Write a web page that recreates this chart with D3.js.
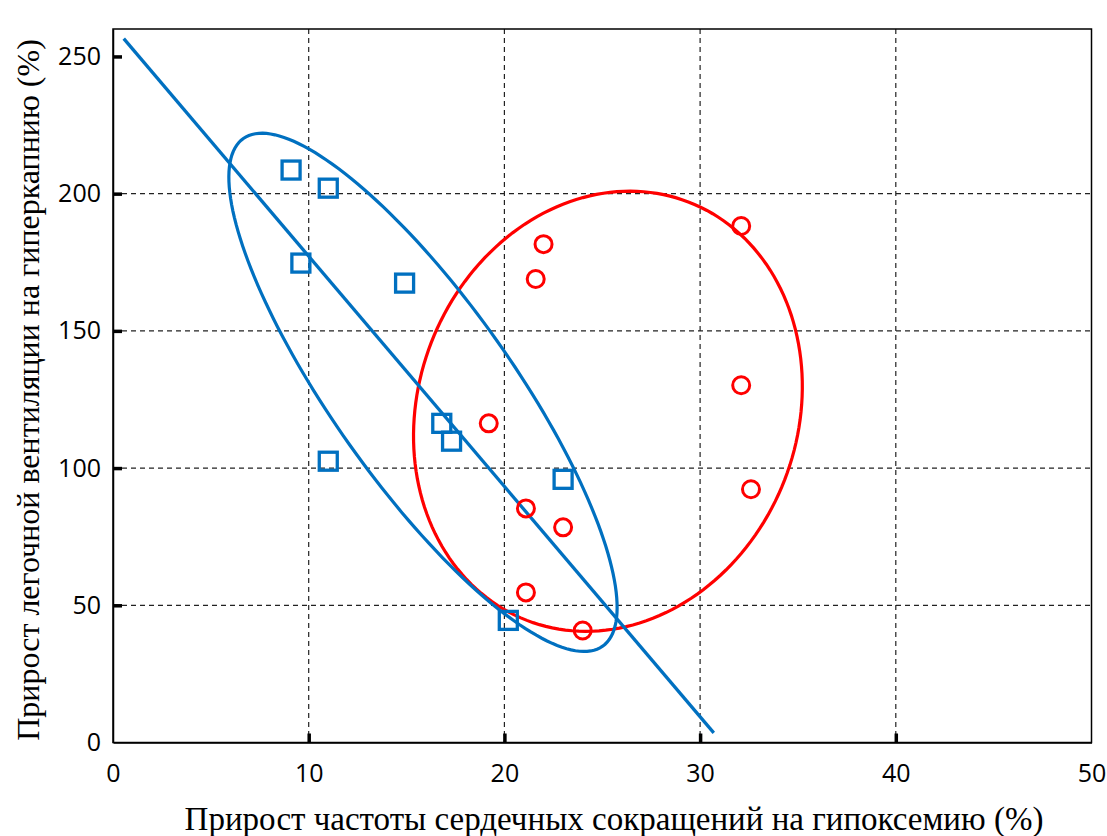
<!DOCTYPE html>
<html lang="ru">
<head>
<meta charset="utf-8" />
<title>Scatter</title>
<script src="https://cdn.jsdelivr.net/npm/d3@7"></script>
<style>
  body { margin: 0; background: #fff; }
  .tick text { font-family: "Open Sans", sans-serif; font-size: 25px; fill: #000; }
  .title { font-family: "Liberation Serif", "Times New Roman", serif; font-size: 33px; fill: #000; }
</style>
</head>
<body>
<script>
// blue group (squares)
var blueX = [9.1, 11.0, 9.6, 14.9, 16.8, 17.3, 11.0, 23.0, 20.2];
var blueY = [208.6, 202.0, 174.7, 167.4, 116.3, 109.8, 102.5, 95.9, 44.5];
// red group (circles)
var redX = [22.0, 21.6, 32.1, 19.2, 32.1, 32.6, 21.1, 23.0, 21.1, 24.0];
var redY = [181.6, 168.9, 188.2, 116.3, 130.2, 92.3, 85.3, 78.4, 54.7, 40.8];
// regression line for blue group
var lineX = [0.55, 30.7];
var lineIntercept = 261.1;
var lineSlope = -8.39;
// ellipses: centre + two conjugate semi-axis vectors (data units)
var blueEllipse = { cx: 15.84, cy: 127.6, ux: 9.18, uy: -92.5, vx: -3.76, vy: -19.0 };
var redEllipse = { cx: 25.29, cy: 120.7, ux: -4.14, uy: -76.2, vx: -9.03, vy: 25.0 };
// ticks
var xTicks = [0, 10, 20, 30, 40, 50];
var yTicks = [0, 50, 100, 150, 200, 250];
var xGrid = [10, 20, 30, 40];
var yGrid = [50, 100, 150, 200];
var xTitle = "Прирост частоты сердечных сокращений на гипоксемию (%)";
var yTitle = "Прирост легочной вентиляции на гиперкапнию (%)";

var w = 1107, h = 836;
var pLeft = 113, pRight = 1091.5, pTop = 29, pBottom = 742.5;
var blue = "#0070c0", red = "#ff0000";

var x = d3.scaleLinear().domain([0, 50]).range([pLeft, pRight]);
var y = d3.scaleLinear().domain([0, 260]).range([pBottom, pTop]);

var svg = d3.select("body").append("svg").attr("width", w).attr("height", h);

// gridlines
svg.selectAll("line.gx").data(xGrid).enter().append("line")
    .attr("x1", function(d) { return x(d); }).attr("x2", function(d) { return x(d); })
    .attr("y1", pTop).attr("y2", pBottom)
    .attr("stroke", "#222").attr("stroke-width", 1.2).attr("stroke-dasharray", "5,4");
svg.selectAll("line.gy").data(yGrid).enter().append("line")
    .attr("y1", function(d) { return y(d); }).attr("y2", function(d) { return y(d); })
    .attr("x1", pLeft).attr("x2", pRight)
    .attr("stroke", "#222").attr("stroke-width", 1.2).attr("stroke-dasharray", "5,4");

// frame
svg.append("rect").attr("x", pLeft).attr("y", pTop)
    .attr("width", pRight - pLeft).attr("height", pBottom - pTop)
    .attr("fill", "none").attr("stroke", "#000").attr("stroke-width", 1.5);

// axes (ticks point inward)
var xAxis = svg.append("g").attr("transform", "translate(0," + pBottom + ")")
    .call(d3.axisBottom(x).tickValues(xTicks).tickSizeInner(-9).tickSizeOuter(0)
        .tickPadding(22).tickFormat(d3.format("d")));
var yAxis = svg.append("g").attr("transform", "translate(" + pLeft + ",0)")
    .call(d3.axisLeft(y).tickValues(yTicks).tickSizeInner(-9).tickSizeOuter(0)
        .tickPadding(12).tickFormat(d3.format("d")));
[xAxis, yAxis].forEach(function(a) {
    a.select(".domain").attr("stroke", "#000").attr("stroke-width", 1.5);
    a.selectAll(".tick line").attr("stroke", "#000").attr("stroke-width", 3.5);
    a.selectAll(".tick text").attr("font-size", null).attr("font-family", null);
});
xAxis.selectAll(".tick").filter(function(d) { return d === 0 || d === 50; }).select("line").remove();
yAxis.selectAll(".tick").filter(function(d) { return d === 0; }).select("line").remove();

// ellipses
function ellipsePoints(e) {
    return d3.range(0, 360, 2).map(function(deg) {
        var t = deg * Math.PI / 180;
        return [e.cx + e.ux * Math.cos(t) + e.vx * Math.sin(t),
                e.cy + e.uy * Math.cos(t) + e.vy * Math.sin(t)];
    });
}
var lineGen = d3.line()
    .x(function(d) { return x(d[0]); })
    .y(function(d) { return y(d[1]); })
    .curve(d3.curveLinearClosed);

svg.append("path").attr("d", lineGen(ellipsePoints(redEllipse)))
    .attr("fill", "none").attr("stroke", red).attr("stroke-width", 3.2);
svg.append("path").attr("d", lineGen(ellipsePoints(blueEllipse)))
    .attr("fill", "none").attr("stroke", blue).attr("stroke-width", 3.2);

// regression line
svg.append("line")
    .attr("x1", x(lineX[0])).attr("y1", y(lineIntercept + lineSlope * lineX[0]))
    .attr("x2", x(lineX[1])).attr("y2", y(lineIntercept + lineSlope * lineX[1]))
    .attr("stroke", blue).attr("stroke-width", 3.3);

// markers
svg.selectAll("rect.sq").data(blueX).enter().append("rect")
    .attr("x", function(d) { return x(d) - 9; })
    .attr("y", function(d, i) { return y(blueY[i]) - 9; })
    .attr("width", 18).attr("height", 18)
    .attr("fill", "none").attr("stroke", blue).attr("stroke-width", 3.3);
svg.selectAll("circle.ci").data(redX).enter().append("circle")
    .attr("cx", function(d) { return x(d); })
    .attr("cy", function(d, i) { return y(redY[i]); })
    .attr("r", 8.5)
    .attr("fill", "none").attr("stroke", red).attr("stroke-width", 3);

// titles
svg.append("text").attr("class", "title")
    .attr("x", 614).attr("y", 830)
    .attr("text-anchor", "middle").text(xTitle);
svg.append("text").attr("class", "title")
    .attr("transform", "translate(39,390) rotate(-90)")
    .attr("text-anchor", "middle").style("font-size", "32px").text(yTitle);
</script>
</body>
</html>
